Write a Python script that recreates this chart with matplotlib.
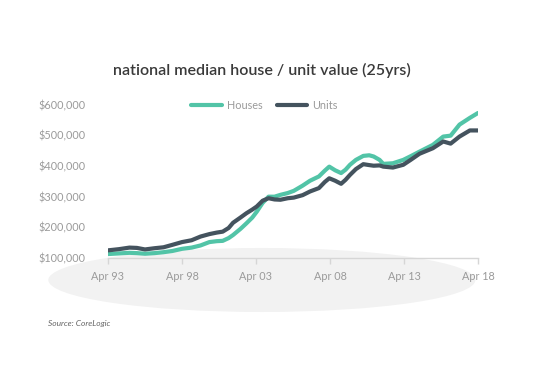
import matplotlib
matplotlib.use('Agg')
import matplotlib.pyplot as plt
from matplotlib.patches import Ellipse
from matplotlib.ticker import FuncFormatter

# decimal year, house and unit median values ($'000)
years = [1993.25, 1994.0, 1994.7, 1995.2, 1995.75, 1996.4, 1997.0, 1997.6, 1998.25, 1998.9,
         1999.5, 2000.1, 2000.6, 2001.0, 2001.4, 2001.7, 2002.2, 2002.6, 2003.0, 2003.3,
         2003.7, 2004.1, 2004.5, 2004.9, 2005.4, 2005.8, 2006.4, 2006.9, 2007.5, 2007.9,
         2008.2, 2008.6, 2009.0, 2009.3, 2009.6, 2010.0, 2010.5, 2010.9, 2011.2, 2011.6,
         2011.85, 2012.5, 2013.2, 2013.7, 2014.3, 2015.2, 2015.9, 2016.4, 2017.0, 2017.7,
         2018.25]
houses = [113, 115, 117, 116, 114, 116, 119, 123, 130, 134,
          141, 152, 155, 156, 165, 175, 195, 213, 232, 251,
          280, 300, 300, 306, 312, 319, 336, 352, 366, 385,
          398, 386, 377, 388, 404, 420, 433, 435, 431, 420,
          407, 409, 420, 432, 447, 469, 496, 499, 535, 557,
          573]
units = [125, 129, 134, 133, 128, 132, 135, 143, 152, 158,
         170, 178, 183, 186, 198, 215, 232, 246, 258, 268,
         287, 295, 291, 290, 295, 297, 305, 317, 328, 348,
         360, 352, 342, 355, 371, 390, 406, 403, 401, 402,
         398, 395, 404, 420, 440, 458, 480, 473, 496, 516,
         516]

tick_years = [1993.25, 1998.25, 2003.25, 2008.25, 2013.25, 2018.25]
tick_labels = ['Apr 93', 'Apr 98', 'Apr 03', 'Apr 08', 'Apr 13', 'Apr 18']
y_ticks = [100, 200, 300, 400, 500, 600]

house_col = '#52c4a7'
unit_col = '#44535e'
grey = '#9a9a9a'

plt.rcParams['font.family'] = ['Lato', 'DejaVu Sans']

fig = plt.figure(figsize=(5.49, 3.66), dpi=100)

# soft grey "shadow" ellipse under the chart
fig.patches.append(Ellipse((0.477, 0.235), 0.778, 0.175, transform=fig.transFigure,
                           facecolor='#f2f2f2', edgecolor='none', zorder=-5))

ax = fig.add_axes([0.1967, 0.295, 0.674, 0.419])
ax.set_facecolor('none')

ax.plot(years, houses, color=house_col, linewidth=3.0, label='Houses', solid_capstyle='round')
ax.plot(years, units, color=unit_col, linewidth=3.0, label='Units', solid_capstyle='round')

ax.set_xlim(1993.25, 2018.25)
ax.set_ylim(100, 600)
ax.set_xticks(tick_years)
ax.set_xticklabels(tick_labels)
ax.set_yticks(y_ticks)
ax.yaxis.set_major_formatter(FuncFormatter(lambda v, p: '${:,.0f}'.format(v * 1000)))

for s in ['top', 'right', 'left']:
    ax.spines[s].set_visible(False)
ax.spines['bottom'].set_color('#d6d6d6')
ax.spines['bottom'].set_linewidth(1.0)
ax.spines['bottom'].set_zorder(0)
ax.tick_params(axis='x', colors='#d6d6d6', length=4, width=1, labelcolor=grey,
               labelsize=7.8, pad=5)
ax.tick_params(axis='y', length=0, labelcolor=grey, labelsize=7.8, pad=16)

fig.text(0.477, 0.808, 'national median house / unit value (25yrs)', ha='center', va='center',
         fontsize=11.5, color='#3a3a3a', fontweight='semibold')

fig.legend(loc='center', bbox_to_anchor=(0.482, 0.713), ncol=2, frameon=False,
           fontsize=7.8, labelcolor=grey, handlelength=2.8, columnspacing=1.3,
           handletextpad=0.5)

fig.text(0.088, 0.117, 'Source: CoreLogic', ha='left', va='center', fontsize=6,
         color='#666666', style='italic')

fig.savefig('out.png', dpi=100)
